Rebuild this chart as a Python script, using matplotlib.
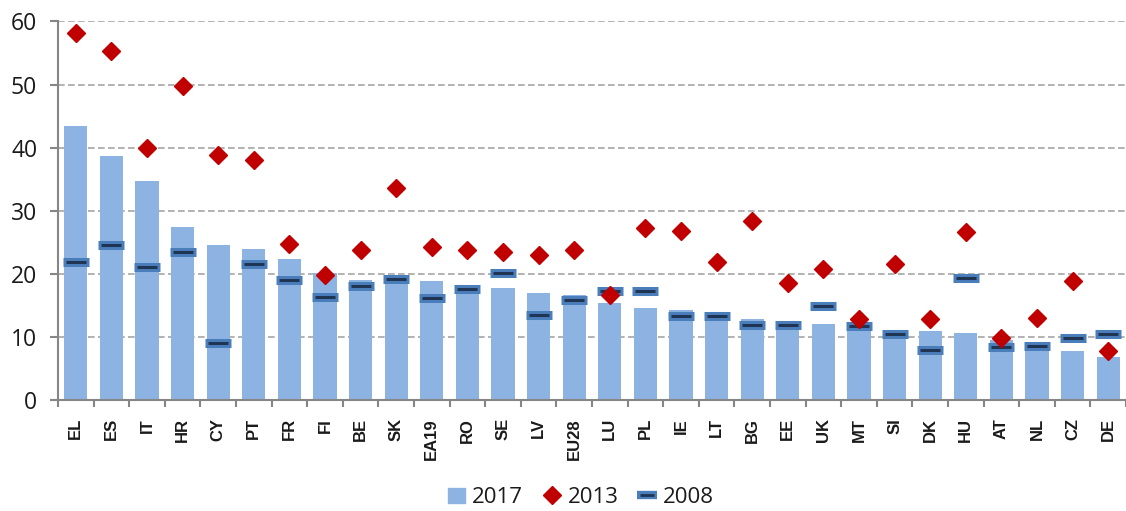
import numpy as np
import matplotlib.pyplot as plt
from matplotlib.lines import Line2D
from matplotlib.patches import Patch

plt.rcParams['font.family'] = ['Open Sans', 'DejaVu Sans']

# values
countries = ['EL', 'ES', 'IT', 'HR', 'CY', 'PT', 'FR', 'FI', 'BE', 'SK',
             'EA19', 'RO', 'SE', 'LV', 'EU28', 'LU', 'PL', 'IE', 'LT', 'BG',
             'EE', 'UK', 'MT', 'SI', 'DK', 'HU', 'AT', 'NL', 'CZ', 'DE']
v2017 = [43.5, 38.6, 34.7, 27.4, 24.6, 23.9, 22.3, 20.1, 19.1, 19.7,
         18.8, 18.1, 17.8, 17.0, 16.7, 15.4, 14.6, 14.2, 13.7, 12.8,
         12.1, 12.1, 12.0, 10.6, 10.9, 10.7, 9.5, 9.0, 7.8, 6.8]
v2013 = [58.2, 55.4, 40.0, 49.8, 38.8, 38.0, 24.8, 19.8, 23.7, 33.6,
         24.2, 23.7, 23.5, 23.0, 23.7, 16.7, 27.2, 26.8, 21.9, 28.4,
         18.5, 20.7, 12.9, 21.6, 12.8, 26.6, 9.8, 13.0, 18.8, 7.8]
v2008 = [21.9, 24.5, 21.1, 23.5, 9.0, 21.5, 19.0, 16.4, 18.0, 19.2,
         16.1, 17.6, 20.2, 13.5, 15.8, 17.2, 17.2, 13.3, 13.3, 11.9,
         11.9, 14.9, 11.7, 10.4, 8.0, 19.4, 8.4, 8.6, 9.8, 10.4]

bar_col = '#8db3e2'
red = '#c00000'
blue = '#4a7ebb'
navy = '#1f3553'

fig = plt.figure(figsize=(11.26, 5.11), dpi=100)
ax = fig.add_axes([58 / 1126, 111 / 511, 1 - 58 / 1126, 378.5 / 511])

x = np.arange(len(countries))
ax.bar(x, v2017, width=0.65, color=bar_col, zorder=2)
ax.plot(x, v2008, ls='none', marker='_', ms=19, mew=6.5, color=blue, zorder=3)
ax.plot(x, v2008, ls='none', marker='_', ms=14, mew=2.2, color=navy, zorder=4)
ax.plot(x, v2013, ls='none', marker='D', ms=9, color=red, zorder=5)

ax.set_xlim(-0.5, 29.3)
ax.set_ylim(0, 60)
ax.set_yticks(range(0, 61, 10))
ax.yaxis.grid(True, ls=(0, (4, 2)), color='#a6a6a6', lw=1.2, zorder=0)
ax.set_axisbelow(True)

ax.set_xticks(x)
ax.set_xticklabels(countries, rotation=90, fontsize=12, fontweight='bold',
                   family='Liberation Sans', color='#1a1a1a')
ax.set_xticks(np.arange(-0.5, 29.6, 1), minor=True)
ax.tick_params(axis='x', which='major', length=0, pad=13)
ax.tick_params(axis='x', which='minor', length=5, width=1.5, color='#868686')
ax.tick_params(axis='y', length=6, width=1.5, color='#868686', labelsize=16.5,
               pad=9, labelcolor='#1a1a1a')

for s in ['top', 'right']:
    ax.spines[s].set_visible(False)
for s in ['left', 'bottom']:
    ax.spines[s].set_color('#868686')
    ax.spines[s].set_linewidth(1.5)

handles = [
    Patch(color=bar_col),
    Line2D([], [], ls='none', marker='D', ms=9, color=red),
    (Line2D([], [], ls='none', marker='_', ms=14, mew=6, color=blue),
     Line2D([], [], ls='none', marker='_', ms=10, mew=2, color=navy)),
]
fig.legend(handles, ['2017', '2013', '2008'], loc='center', bbox_to_anchor=(0.516, 0.026),
           ncol=3, frameon=False, fontsize=16, handlelength=0.75, handleheight=0.7,
           columnspacing=0.9, handletextpad=0.35, labelcolor='#1a1a1a')

fig.savefig('out.png', dpi=100)
